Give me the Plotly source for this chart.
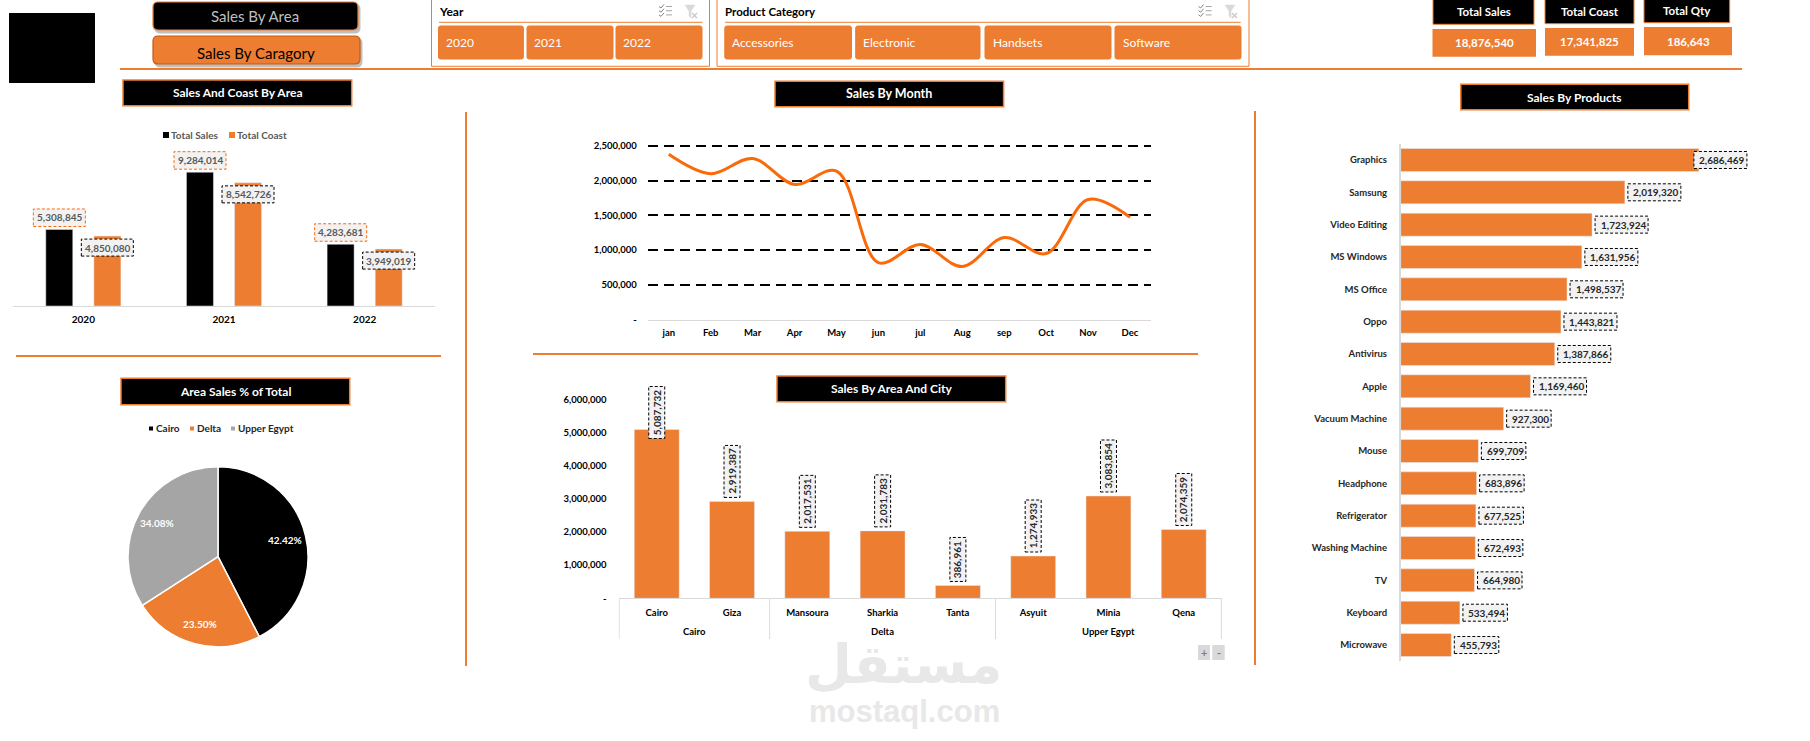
import math

import plotly.graph_objects as go

WIDTH, HEIGHT = 1810, 741
ORANGE = "#ED7D31"
LINE_ORANGE = "#FA6A0A"
GREY = "#A5A5A5"
AXIS = "#D9D9D9"
FONT = "Lato"

# ---- data ----
years = ["2020", "2021", "2022"]
year_sales = [5308845, 9284014, 4283681]
year_cost = [4850080, 8542726, 3949019]

months = ["jan", "Feb", "Mar", "Apr", "May", "jun", "jul", "Aug", "sep", "Oct", "Nov", "Dec"]
month_sales = [2380000, 2100000, 2320000, 1945000, 2138000, 820000,
               1080000, 763000, 1180000, 950000, 1728000, 1472000]
month_ticks = [0, 500000, 1000000, 1500000, 2000000, 2500000]
month_ticktext = ["-", "500,000", "1,000,000", "1,500,000", "2,000,000", "2,500,000"]

city_name = ["Cairo", "Giza", "Mansoura", "Sharkia", "Tanta", "Asyuit", "Minia", "Qena"]
city_sales = [5087732, 2919387, 2017531, 2031783, 386961, 1274933, 3083854, 2074359]
city_ticks = [0, 1000000, 2000000, 3000000, 4000000, 5000000, 6000000]
city_ticktext = ["-", "1,000,000", "2,000,000", "3,000,000", "4,000,000", "5,000,000", "6,000,000"]
area_groups = [("Cairo", 0, 1), ("Delta", 2, 4), ("Upper Egypt", 5, 7)]

area_names = ["Cairo", "Delta", "Upper Egypt"]
area_sales = [8007119, 4436275, 6433146]

products = ["Graphics", "Samsung", "Video Editing", "MS Windows", "MS Office", "Oppo", "Antivirus",
            "Apple", "Vacuum Machine", "Mouse", "Headphone", "Refrigerator", "Washing Machine",
            "TV", "Keyboard", "Microwave"]
product_sales = [2686469, 2019320, 1723924, 1631956, 1498537, 1443821, 1387866, 1169460,
                 927300, 699709, 683896, 677525, 672493, 664980, 533494, 455793]

year_buttons = ["2020", "2021", "2022"]
category_buttons = ["Accessories", "Electronic", "Handsets", "Software"]
kpi_titles = ["Total Sales", "Total Coast", "Total Qty"]
kpi_values = ["18,876,540", "17,341,825", "186,643"]


# ---- pixel helpers for the dashboard furniture ----
def fx(px):
    return px / WIDTH


def fy(py):
    return 1 - py / HEIGHT


shapes = []
annotations = []


def rect(x0, y0, x1, y1, fill=None, line=None, lw=1):
    shapes.append(dict(type="rect", xref="paper", yref="paper", x0=fx(x0), x1=fx(x1), y0=fy(y0), y1=fy(y1),
                       fillcolor=fill or "rgba(0,0,0,0)", line=dict(color=line or "rgba(0,0,0,0)", width=lw if line else 0)))


def rule(x0, y0, x1, y1, color=ORANGE, lw=2):
    shapes.append(dict(type="line", xref="paper", yref="paper", x0=fx(x0), x1=fx(x1), y0=fy(y0), y1=fy(y1),
                       line=dict(color=color, width=lw)))


def rounded(x0, y0, x1, y1, r, fill, line=None, lw=1):
    ax, bx, ay, by = fx(x0), fx(x1), fy(y0), fy(y1)
    rx, ry = r / WIDTH, r / HEIGHT
    path = (f"M{ax+rx},{ay} L{bx-rx},{ay} Q{bx},{ay} {bx},{ay-ry} L{bx},{by+ry} Q{bx},{by} {bx-rx},{by} "
            f"L{ax+rx},{by} Q{ax},{by} {ax},{by+ry} L{ax},{ay-ry} Q{ax},{ay} {ax+rx},{ay} Z")
    shapes.append(dict(type="path", xref="paper", yref="paper", path=path, fillcolor=fill,
                       line=dict(color=line or fill, width=lw)))


def text(px, py, s, size=10, color="black", bold=False, anchor="center", family=FONT):
    # left-anchored annotations carry a little padding of their own
    if anchor == "left":
        px -= 2.5
    annotations.append(dict(xref="paper", yref="paper", x=fx(px), y=fy(py), text=f"<b>{s}</b>" if bold else s,
                            showarrow=False, xanchor=anchor, yanchor="middle",
                            font=dict(family=family, size=size, color=color)))


def heading(x0, y0, x1, y1, s, size=12):
    rect(x0, y0, x1, y1, fill="black", line=ORANGE, lw=1.5)
    text((x0 + x1) / 2, (y0 + y1) / 2, s, size=size, color="white", bold=True)


def slicer_icons(x_multi, x_clear):
    for i in range(3):
        y = 6.5 + i * 4.2
        rule(x_multi + 1, y, x_multi + 7, y, color="#A6A6A6", lw=1)
        rule(x_multi - 6, y, x_multi - 4, y + 1.5, color="#808080", lw=1)
        rule(x_multi - 4, y + 1.5, x_multi - 1, y - 2, color="#808080", lw=1)
    ax, bx = fx(x_clear - 6), fx(x_clear + 4)
    path = (f"M{ax},{fy(5)} L{bx},{fy(5)} L{fx(x_clear)},{fy(11)} L{fx(x_clear)},{fy(18)} "
            f"L{fx(x_clear - 2)},{fy(16)} L{fx(x_clear - 2)},{fy(11)} Z")
    shapes.append(dict(type="path", xref="paper", yref="paper", path=path, fillcolor="#D9D9D9",
                       line=dict(color="#D9D9D9", width=0.5)))
    rule(x_clear + 1, 13, x_clear + 6, 18, color="#C8C8C8", lw=1.2)
    rule(x_clear + 6, 13, x_clear + 1, 18, color="#C8C8C8", lw=1.2)


def value_box(xref, yref, xa, ya, x0, x1, y0, y1, color):
    """Dashed label box whose size is in pixels and whose anchor is a data point."""
    shapes.append(dict(type="rect", xref=xref, yref=yref, xsizemode="pixel", ysizemode="pixel",
                       xanchor=xa, yanchor=ya, x0=x0, x1=x1, y0=y0, y1=y1,
                       fillcolor="#F2F2F2", line=dict(color=color, width=1, dash="3px,2px")))


def value_text(xref, yref, xa, ya, s, xshift=0, yshift=0, angle=0, color="#404040", size=10):
    annotations.append(dict(xref=xref, yref=yref, x=xa, y=ya, text=f"<b>{s}</b>", showarrow=False,
                            xshift=xshift, yshift=yshift, textangle=angle,
                            font=dict(family=FONT, size=size, color=color)))


# ---- header band ----
rect(9, 13, 95, 83, fill="black")
rounded(155, 4, 360, 33, 5, "#BFBFBF")
rounded(153, 2, 358, 30, 5, "black", ORANGE, 1.2)
text(255, 16, "Sales By Area", size=15, color="#BFBFBF")
rounded(155, 38, 362, 67, 5, "#BFBFBF")
rounded(153, 36, 360, 64, 5, ORANGE, "#C55A11", 1.2)
text(256, 53, "Sales By Caragory", size=15, color="black")

rule(120, 69, 1742, 69)

rect(431.5, -2, 709.5, 66.3, line=ORANGE, lw=1)
text(439, 11, "Year", size=12, bold=True, anchor="left")
rule(439, 22.3, 702.5, 22.3, lw=1)
slicer_icons(665, 691)
for (a, b), label in zip([(438.5, 523.4), (527, 613), (616, 702)], year_buttons):
    rounded(a, 26, b, 59, 2, ORANGE)
    text(a + 7.5, 43, label, size=12, color="white", anchor="left")

rect(717, -2, 1249, 66.3, line=ORANGE, lw=1)
text(725, 11, "Product Category", size=11.5, bold=True, anchor="left")
rule(725, 22.3, 1240.7, 22.3, lw=1)
slicer_icons(1204.6, 1231)
for (a, b), label in zip([(724.8, 851.5), (855.7, 980), (985, 1111), (1115, 1241)], category_buttons):
    rounded(a, 26, b, 59, 2, ORANGE)
    text(a + 8, 43, label, size=12, color="white", anchor="left")

kpi_boxes = [((1433, -2, 1534, 24.3), (1432.5, 29, 1536, 56.7)),
             ((1545, -2, 1634, 23.7), (1545, 28, 1634, 55.7)),
             ((1644, -2, 1729.7, 22.7), (1644, 27, 1732, 55.3))]
for (head, body), title, value in zip(kpi_boxes, kpi_titles, kpi_values):
    rect(*head, fill="black", line=ORANGE, lw=1)
    text((head[0] + head[2]) / 2, head[3] / 2 - 0.5, title, size=11.5, color="white", bold=True)
    rect(*body, fill=ORANGE)
    text((body[0] + body[2]) / 2, (body[1] + body[3]) / 2, value, size=11.5, color="white", bold=True)

# ---- section titles and separators ----
heading(123, 80, 351.7, 105.7, "Sales And Coast By Area")
heading(775, 81.3, 1003.6, 106.7, "Sales By Month", size=12.5)
heading(1460.8, 84.3, 1688.7, 109.7, "Sales By Products")
heading(121, 378.3, 349.7, 404.7, "Area Sales % of Total")
heading(777, 376, 1005.7, 401.7, "Sales By Area And City")

rule(466, 112, 466, 666)
rule(1255, 111, 1255, 665)
rule(16, 356, 441, 356)
rule(533, 354, 1198, 354)

# ---- legends ----
for x, color, label in [(163, "black", "Total Sales"), (229, ORANGE, "Total Coast")]:
    rect(x, 132, x + 6, 138, fill=color)
    text(x + 8, 134.5, label, size=10, color="#595959", bold=True, anchor="left")
for x, color, label in zip([149, 190, 231], ["black", ORANGE, GREY], area_names):
    rect(x, 426.5, x + 4, 430.5, fill=color)
    text(x + 7, 428.5, label, size=10, color="#262626", bold=True, anchor="left")

fig = go.Figure()

# ---- sales and cost by year ----
fig.add_bar(x=years, y=year_sales, name="Total Sales", marker_color="black", width=0.192, offset=-0.267,
            xaxis="x", yaxis="y", showlegend=False)
fig.add_bar(x=years, y=year_cost, name="Total Coast", marker_color=ORANGE, width=0.192, offset=0.075,
            xaxis="x", yaxis="y", showlegend=False)
for i, (s, c) in enumerate(zip(year_sales, year_cost)):
    value_box("x", "y", i, s, -50, 2, 3, 20.5, LINE_ORANGE)
    value_text("x", "y", i, s, f"{s:,}", xshift=-24, yshift=12, color="#595959")
    value_box("x", "y", i, c, -2, 50, -20, -3, "black")
    value_text("x", "y", i, c, f"{c:,}", xshift=24, yshift=-11.5, color="#595959")

# ---- monthly sales line ----
fig.add_scatter(x=months, y=month_sales, mode="lines", line=dict(color=LINE_ORANGE, width=3, shape="spline", smoothing=1),
                xaxis="x2", yaxis="y2", showlegend=False, cliponaxis=False)

# ---- sales by area and city ----
fig.add_bar(x=city_name, y=city_sales, marker_color=ORANGE, width=0.597,
            xaxis="x3", yaxis="y3", showlegend=False)
for i, v in enumerate(city_sales):
    length = 52 if v >= 1000000 else 44
    low = -9 if v > 5000000 else 4
    value_box("x3", "y3", i, v, -8, 8, low, low + length, "black")
    value_text("x3", "y3", i, v, f"{v:,}", yshift=low + length / 2, angle=-90, color="#262626")

# two-level category axis: area names under the cities, with dividers between areas
for label, first, last in area_groups:
    annotations.append(dict(xref="x3", yref="paper", x=(first + last) / 2, y=fy(631), text=f"<b>{label}</b>",
                            showarrow=False, yanchor="middle", font=dict(family=FONT, size=9.5, color="black")))
for edge in [-0.5, 1.5, 4.5, 7.5]:
    shapes.append(dict(type="line", xref="x3", yref="paper", x0=edge, x1=edge, y0=fy(598.3), y1=fy(639),
                       line=dict(color=AXIS, width=1)))

# ---- products ----
fig.add_bar(x=product_sales, y=products, orientation="h", marker_color=ORANGE, width=0.711,
            xaxis="x4", yaxis="y4", showlegend=False)
for i, v in enumerate(product_sales):
    w = 53 if v >= 1000000 else 44.5
    low = -5 if v > 2500000 else 3
    value_box("x4", "y4", v, i, low, low + w, -8.5, 8.5, "black")
    value_text("x4", "y4", v, i, f"{v:,}", xshift=low + w / 2 + 1.5, color="#262626")

# ---- area share pie ----
PIE_X, PIE_Y, PIE_R = 218, 556.7, 90
fig.add_pie(labels=area_names, values=area_sales, sort=False, direction="clockwise", rotation=0,
            marker=dict(colors=["black", ORANGE, GREY], line=dict(color="white", width=1.5)),
            textinfo="none", showlegend=False, automargin=False,
            domain=dict(x=[fx(PIE_X - PIE_R), fx(PIE_X + PIE_R)], y=[fy(PIE_Y + PIE_R), fy(PIE_Y - PIE_R)]))
total = sum(area_sales)
start = 0.0
for v in area_sales:
    mid = 2 * math.pi * (start + v / 2) / total
    text(PIE_X + 0.77 * PIE_R * math.sin(mid), PIE_Y - 0.77 * PIE_R * math.cos(mid), f"{v / total:.2%}",
         size=10, color="white", bold=True)
    start += v

# ---- chart furniture below the city axis ----
rect(1198, 645, 1210, 660, fill="#D9D9D9")
text(1204, 652, "+", size=11, color="#7F7F7F", bold=True)
rect(1212.3, 645, 1224.7, 660, fill="#D9D9D9")
text(1218.5, 652, "-", size=11, color="#7F7F7F", bold=True)

# ---- site mark ----
text(904, 664, "مستقل", size=54, color="#E8E8E8", bold=True, family="DejaVu Sans")
text(904, 711, "mostaql.com", size=31, color="#E8E8E8", bold=True, family="Liberation Sans")


def tick_font(size=9.5, color="black"):
    return dict(family=FONT, size=size, color=color, weight=700)


fig.update_layout(
    width=WIDTH, height=HEIGHT, autosize=False, margin=dict(l=0, r=0, t=0, b=0, autoexpand=False),
    paper_bgcolor="white", plot_bgcolor="white", shapes=shapes, annotations=annotations,
    font=dict(family=FONT),
    xaxis=dict(domain=[fx(13), fx(435)], type="category", showgrid=False, showline=True, linecolor=AXIS, linewidth=1,
               ticks="", ticklabelstandoff=4, tickfont=tick_font(10), anchor="y"),
    yaxis=dict(domain=[fy(306), fy(146)], range=[0, 11100000], visible=False, anchor="x"),
    xaxis2=dict(domain=[fx(647.8), fx(1151)], type="category", range=[-0.5, 11.5], showgrid=False, showline=True,
                linecolor=AXIS, linewidth=1, ticks="", ticklabelstandoff=4, tickfont=tick_font(), anchor="y2"),
    yaxis2=dict(domain=[fy(319.5), fy(143.9)], range=[0, 2530000], tickmode="array", tickvals=month_ticks,
                ticktext=month_ticktext, showgrid=True, gridcolor="black", gridwidth=2, griddash="10px,6px",
                zeroline=False, showline=False, ticks="", ticklabelstandoff=10, tickfont=tick_font(), anchor="x2"),
    xaxis3=dict(domain=[fx(618.6), fx(1221.9)], type="category", showgrid=False, showline=True, linecolor=AXIS,
                linewidth=1, ticks="", ticklabelstandoff=5, tickfont=tick_font(), anchor="y3"),
    yaxis3=dict(domain=[fy(598.3), fy(380)], range=[0, 6580000], tickmode="array", tickvals=city_ticks,
                ticktext=city_ticktext, showgrid=False, zeroline=False, showline=False, ticks="",
                ticklabelstandoff=11, tickfont=tick_font(), anchor="x3"),
    xaxis4=dict(domain=[fx(1400.7), fx(1800)], range=[0, 3597000], visible=False, anchor="y4"),
    yaxis4=dict(domain=[fy(661.2), fy(143.8)], type="category", autorange="reversed", showgrid=False, showline=True,
                linecolor=AXIS, linewidth=1.5, ticks="", ticklabelstandoff=10, tickfont=tick_font(9.5, "#262626"),
                anchor="x4"),
)

fig.write_html("out.html", config=dict(displayModeBar=False))
